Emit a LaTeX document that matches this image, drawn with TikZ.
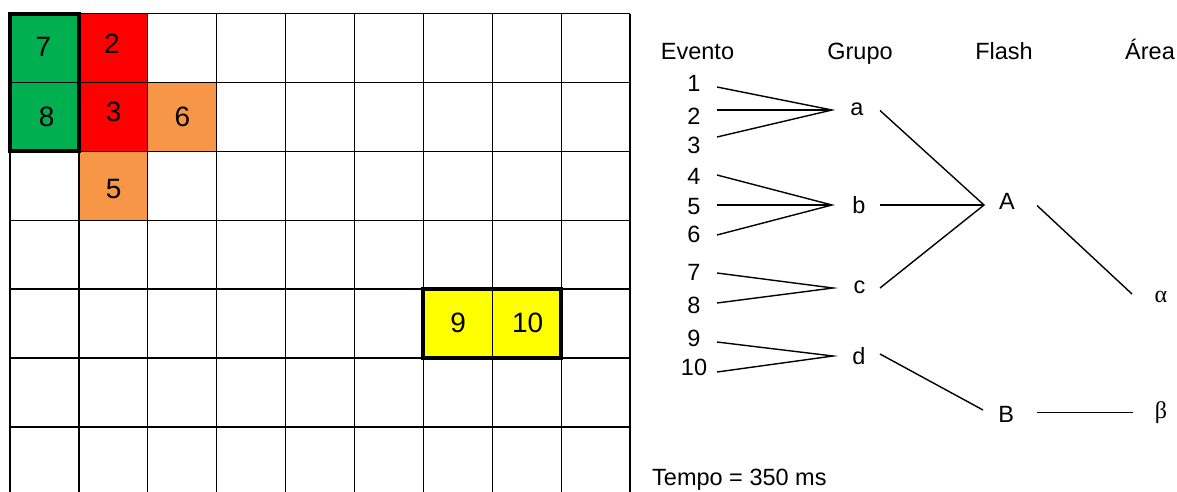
\documentclass[tikz,border=0pt]{standalone}
\usepackage{fontspec}
\setmainfont{Liberation Sans}
\newfontfamily\grkfont{Liberation Serif}
\definecolor{cgreen}{RGB}{0,176,80}
\definecolor{cred}{RGB}{255,0,0}
\definecolor{corange}{RGB}{247,150,70}
\definecolor{cyellow}{RGB}{255,255,0}
\begin{document}
\begin{tikzpicture}[x=1pt,y=-1pt,
  gridline/.style={line width=1.3pt,black},
  thickbox/.style={line width=4pt,black},
  cellnum/.style={anchor=base,inner sep=0pt,font=\fontsize{28}{33}\selectfont},
  lbl/.style={anchor=base,inner sep=0pt,font=\fontsize{23.5}{28}\selectfont},
  grk/.style={anchor=base,inner sep=0pt,font=\grkfont\fontsize{24}{28}\selectfont},
  link/.style={line width=1.4pt,black}]
\useasboundingbox (0,0) rectangle (1177,491);
\def\cs{68.9}
\begin{scope}
\clip (0,0) rectangle (1177,491);
% coloured cells
\fill[cgreen] (10,13.5) rectangle (10+\cs,13.5+2*\cs);
\fill[cred] (10+\cs,13.5) rectangle (10+2*\cs,13.5+2*\cs);
\fill[corange] (10+2*\cs,13.5+\cs) rectangle (10+3*\cs,13.5+2*\cs);
\fill[corange] (10+\cs,13.5+2*\cs) rectangle (10+2*\cs,13.5+3*\cs);
\fill[cyellow] (10+6*\cs,13.5+4*\cs) rectangle (10+8*\cs,13.5+5*\cs);
% grid
\foreach \i in {0,...,9} \draw[gridline] (10+\i*\cs,13.5) -- (10+\i*\cs,520);
\foreach \j in {0,...,6} \draw[gridline] (10,13.5+\j*\cs) -- (10+9*\cs,13.5+\j*\cs);
\draw[thickbox] (10,13.5) rectangle (10+\cs,13.5+2*\cs);
\draw[thickbox] (10+6*\cs,13.5+4*\cs) rectangle (10+8*\cs,13.5+5*\cs);
\end{scope}
% cell numbers
\node[cellnum] (g7) at (43.3,56.7) {7};
\node[cellnum] (g2) at (112,53.3) {2};
\node[cellnum] (g8) at (46.7,126.7) {8};
\node[cellnum] (g3) at (113.7,121.7) {3};
\node[cellnum] (g6) at (182.5,126.7) {6};
\node[cellnum] (g5) at (113.7,198.3) {5};
\node[cellnum] (g9) at (458.2,332.3) {9};
\node[cellnum] (g10) at (527.7,332.3) {10};
% headers
\node[lbl] (hev) at (697.5,59) {Evento};
\node[lbl] (hgr) at (860,59) {Grupo};
\node[lbl] (hfl) at (1004,59) {Flash};
\node[lbl] (har) at (1150,59) {Área};
% events
\node[lbl] (n1) at (694,91.7) {1};
\node[lbl] (n2) at (694,124) {2};
\node[lbl] (n3) at (694,153.3) {3};
\node[lbl] (n4) at (694,184) {4};
\node[lbl] (n5) at (694,214) {5};
\node[lbl] (n6) at (694,242.7) {6};
\node[lbl] (n7) at (694,280.7) {7};
\node[lbl] (n8) at (694,313.3) {8};
\node[lbl] (n9) at (694,346) {9};
\node[lbl] (n10) at (694,375.7) {10};
% groups
\node[lbl] (ga) at (857,115) {a};
\node[lbl] (gb) at (859,213) {b};
\node[lbl] (gc) at (859.5,293) {c};
\node[lbl] (gd) at (859,364) {d};
% flashes
\node[lbl] (fA) at (1007,209) {A};
\node[lbl] (fB) at (1006.3,422.7) {B};
% areas
\node[grk] (aal) at (1161,302) {α};
\node[grk] (abe) at (1161,418) {β};
% time
\node[lbl,anchor=base west] (tempo) at (652,485) {Tempo = 350 ms};
% connector end points
\coordinate (e1) at (717,87);
\coordinate (e2) at (717,110);
\coordinate (e3) at (717,137);
\coordinate (e4) at (717,175);
\coordinate (e5) at (717,205);
\coordinate (e6) at (717,235);
\coordinate (e7) at (717,273);
\coordinate (e8) at (717,303);
\coordinate (e9) at (717,342);
\coordinate (e10) at (717,372);
\coordinate (ja) at (832,110);
\coordinate (jb) at (832,205);
\coordinate (jc) at (833,288);
\coordinate (jd) at (833,356);
\coordinate (oa) at (880,110.5);
\coordinate (ob) at (880,205);
\coordinate (oc) at (880,288);
\coordinate (od) at (880,354);
\coordinate (jA) at (984,205);
\coordinate (jB) at (983,410);
\coordinate (oA) at (1037,205.5);
\coordinate (oB) at (1037,412.3);
\coordinate (jal) at (1132,294);
\coordinate (jbe) at (1132.7,412.3);
% connectors
\draw[link] (e1) -- (ja) -- (e3);
\draw[link] (e2) -- (ja);
\draw[link] (e4) -- (jb) -- (e6);
\draw[link] (e5) -- (jb);
\draw[link] (e7) -- (jc) -- (e8);
\draw[link] (e9) -- (jd) -- (e10);
\draw[link] (oa) -- (jA) -- (oc);
\draw[link] (ob) -- (jA);
\draw[link] (od) -- (jB);
\draw[link] (oA) -- (jal);
\draw[link] (oB) -- (jbe);
\end{tikzpicture}
\end{document}
